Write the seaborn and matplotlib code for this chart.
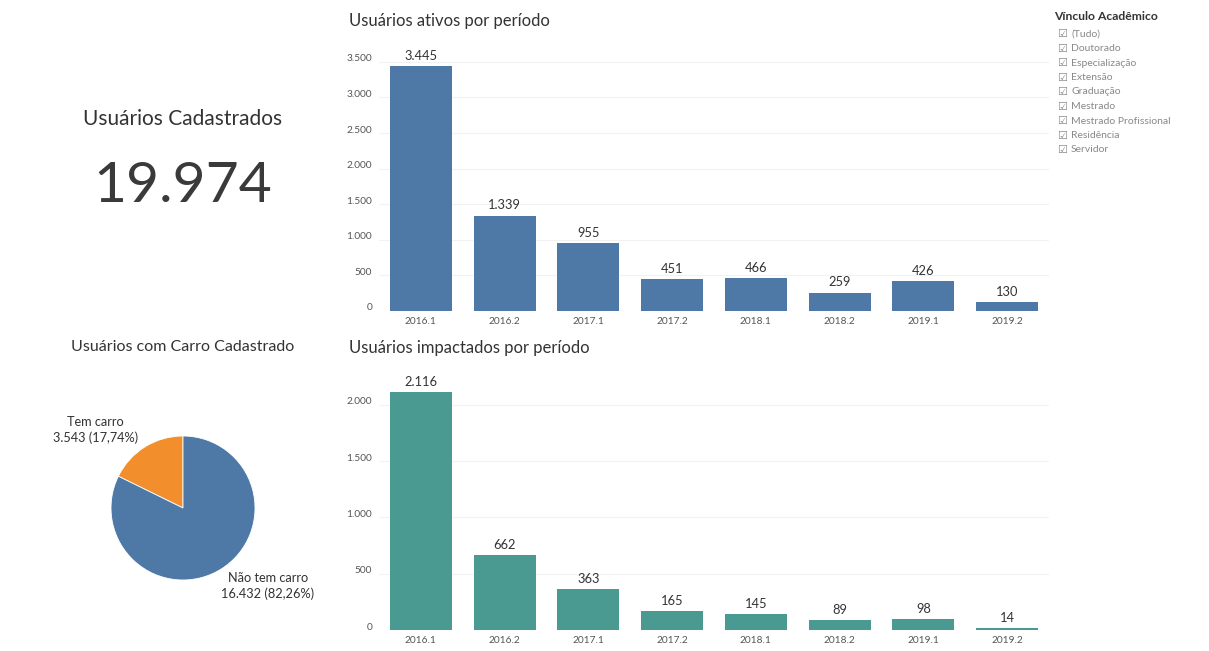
import matplotlib
matplotlib.use("Agg")
import matplotlib.pyplot as plt
import matplotlib.transforms as mtransforms
from matplotlib.ticker import FuncFormatter
import seaborn as sns

# Dashboard data
periodos = ["2016.1", "2016.2", "2017.1", "2017.2", "2018.1", "2018.2", "2019.1", "2019.2"]
ativos = [3445, 1339, 955, 451, 466, 259, 426, 130]
impactados = [2116, 662, 363, 165, 145, 89, 98, 14]
ativos_ticks = [0, 500, 1000, 1500, 2000, 2500, 3000, 3500]
impactados_ticks = [0, 500, 1000, 1500, 2000]
total_cadastrados = 19974
carro_labels = ["Tem carro", "Não tem carro"]
carro_valores = [3543, 16432]
vinculos = ["(Tudo)", "Doutorado", "Especialização", "Extensão", "Graduação",
            "Mestrado", "Mestrado Profissional", "Residência", "Servidor"]

BLUE = "#4E79A7"
ORANGE = "#F28E2B"
TEAL = "#4A9A92"
TEXT = "#333333"
TICK = "#555555"

sns.set_theme(style="white")
plt.rcParams["font.family"] = ["Lato", "DejaVu Sans"]

W, H = 1209, 651
fig = plt.figure(figsize=(W / 100, H / 100), dpi=100)


def px_axes(left, top, right, bottom):
    return fig.add_axes([left / W, 1 - bottom / H, (right - left) / W, (bottom - top) / H])


def br(n):
    return f"{int(round(n)):,}".replace(",", ".")


def bar_panel(ax, values, ticks, ymax, color, title):
    sns.barplot(x=periodos, y=values, color=color, width=0.74, saturation=1,
                ax=ax, edgecolor="none")
    ax.set_xlim(-0.5, len(periodos) - 0.5)
    ax.set_ylim(0, ymax)
    ax.set_yticks(ticks)
    ax.yaxis.set_major_formatter(FuncFormatter(lambda v, p: br(v)))
    ax.grid(axis="y", color="#f2f2f2", linewidth=0.8)
    ax.set_axisbelow(True)
    sns.despine(ax=ax, left=True, bottom=True)
    ax.tick_params(axis="both", length=0, labelsize=7.3, colors=TICK)
    ax.tick_params(axis="y", pad=5)
    ax.tick_params(axis="x", pad=4)
    ax.set_xlabel("")
    ax.set_ylabel("")
    off = mtransforms.ScaledTranslation(0, 4 / 100, fig.dpi_scale_trans)
    for lab in ax.get_yticklabels():
        lab.set_transform(lab.get_transform() + off)
    ax.bar_label(ax.containers[0], labels=[br(v) for v in values], padding=3,
                 fontsize=9.3, color=TEXT)
    ax.text(-0.045, 1.06, title, transform=ax.transAxes, fontsize=12,
            color=TEXT, ha="left", va="bottom")


ax1 = px_axes(379, 45, 1049, 311)
bar_panel(ax1, ativos, ativos_ticks, 3736, BLUE, "Usuários ativos por período")

ax2 = px_axes(379, 365, 1049, 630)
bar_panel(ax2, impactados, impactados_ticks, 2353, TEAL, "Usuários impactados por período")
ax2.texts[-1].set_position((-0.045, 1.035))

# KPI
fig.text(183 / W, 1 - 119 / H, "Usuários Cadastrados", ha="center", va="center",
         fontsize=15, color=TEXT)
fig.text(183 / W, 1 - 186 / H, br(total_cadastrados), ha="center", va="center",
         fontsize=41, color="#3a3a3a", fontweight="normal")

# Pie
axp = px_axes(111, 436, 255, 580)
axp.pie(carro_valores, colors=[ORANGE, BLUE], startangle=90, counterclock=True,
        wedgeprops=dict(linewidth=0.6, edgecolor="white"))
axp.set_xlim(-1, 1)
axp.set_ylim(-1, 1)
total = sum(carro_valores)
pos = [(-1.22, 1.08), (1.18, -1.08)]
for (x, y), lab, v in zip(pos, carro_labels, carro_valores):
    pct = f"{100 * v / total:.2f}".replace(".", ",")
    axp.text(x, y, f"{lab}\n{br(v)} ({pct}%)", ha="center", va="center",
             fontsize=9.2, color=TEXT, clip_on=False, linespacing=1.35)
fig.text(183 / W, 1 - 347 / H, "Usuários com Carro Cadastrado", ha="center",
         va="center", fontsize=11.5, color=TEXT)

# Filter legend
fig.text(1054 / W, 1 - 17 / H, "Vínculo Acadêmico", ha="left", va="center",
         fontsize=8.7, fontweight="bold", color=TEXT)
for i, nome in enumerate(vinculos):
    y = 1 - (34 + i * 14.5) / H
    fig.text(1057 / W, y, "\u2611", ha="left", va="center", fontsize=8,
             color="#888888", family="DejaVu Sans")
    fig.text(1071 / W, y, nome, ha="left", va="center", fontsize=7.5, color="#888888")

fig.savefig("out.png", dpi=100, facecolor="white")
